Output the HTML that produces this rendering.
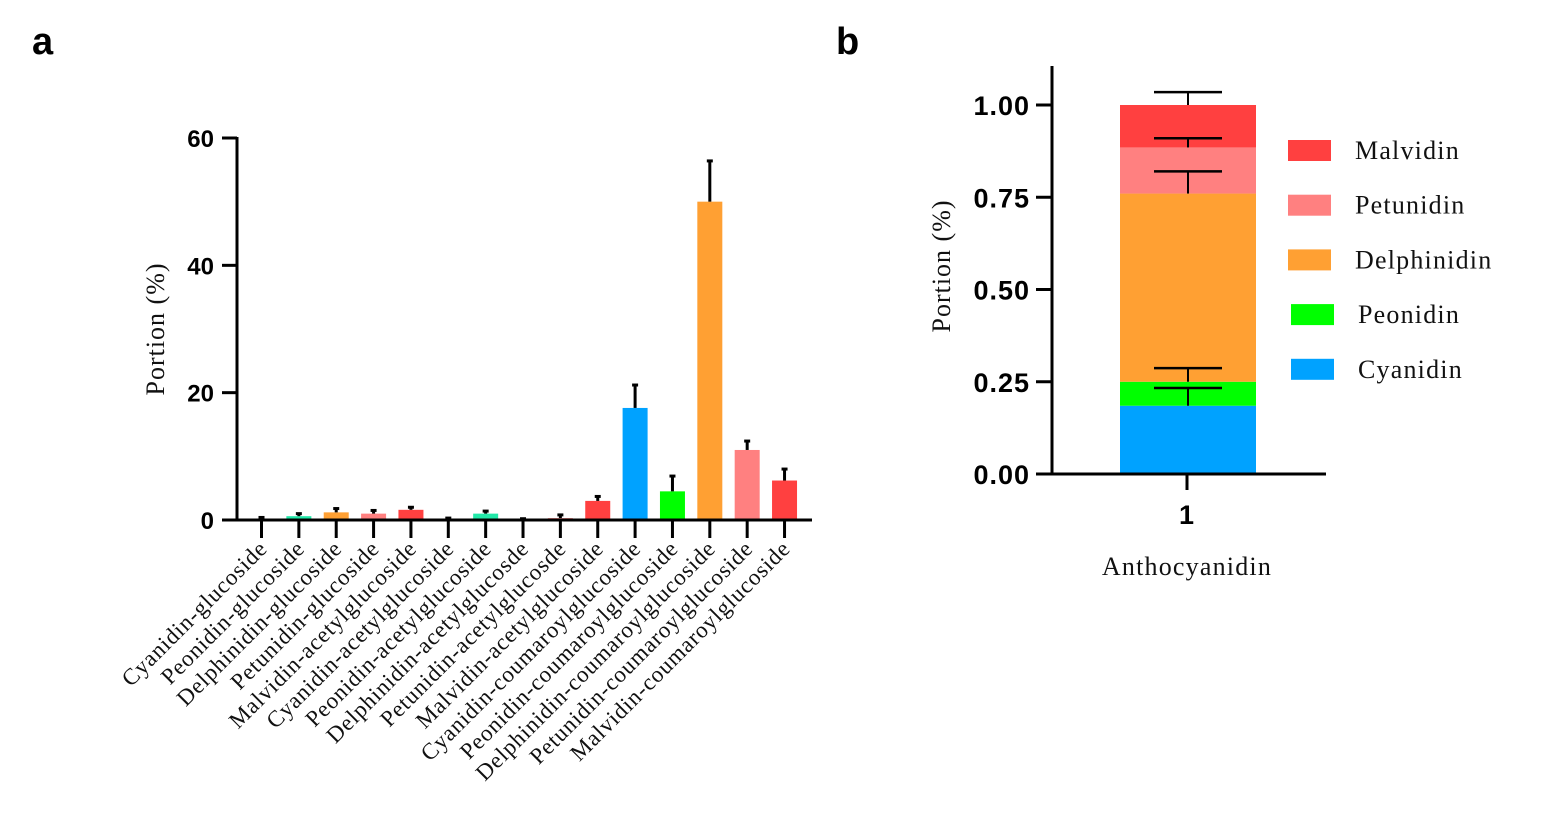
<!DOCTYPE html>
<html><head><meta charset="utf-8"><style>
html,body{margin:0;padding:0;background:#fff;}
svg{display:block;}
.tk{font-family:"Liberation Sans",sans-serif;font-weight:bold;font-size:24px;fill:#000;}
.tkb{font-family:"Liberation Sans",sans-serif;font-weight:bold;font-size:27px;fill:#000;letter-spacing:1px;}
.sr{font-family:"Liberation Serif",serif;fill:#111;}
</style></head><body>
<svg id="chart" width="1541" height="828" viewBox="0 0 1541 828" xmlns="http://www.w3.org/2000/svg">
<text x="32" y="54" font-family="Liberation Sans,sans-serif" font-weight="bold" font-size="38">a</text>
<text x="836" y="54" font-family="Liberation Sans,sans-serif" font-weight="bold" font-size="38">b</text>
<g id="pa"></g>
<g id="pb"></g>
</svg>
<script>
const catsA=["Cyanidin-glucoside","Peonidin-glucoside","Delphinidin-glucoside","Petunidin-glucoside","Malvidin-acetylglucoside","Cyanidin-acetylglucoside","Peonidin-acetylglucoside","Delphinidin-acetylglucosde","Petunidin-acetylglucosde","Malvidin-acetylglucoside","Cyanidin-coumaroylglucoside","Peonidin-coumaroylglucoside","Delphinidin-coumaroylglucoside","Petunidin-coumaroylglucoside","Malvidin-coumaroylglucoside"];
const valsA=[0.1,0.6,1.2,1.0,1.6,0.1,1.0,0.1,0.3,3.0,17.6,4.5,50,11,6.2];
const errA=[0.3,0.4,0.6,0.5,0.4,0.2,0.4,0.1,0.5,0.7,3.6,2.4,6.4,1.4,1.8];
const colA=["#ff4040","#22e8a8","#ffa033","#ff8080","#ff4040","#ff4040","#22e8a8","#ff4040","#ff8080","#ff4040","#00a2ff","#00ff00","#ffa033","#ff8080","#ff4040"];
const ticksA=[0,20,40,60];
const segNames=["Cyanidin","Peonidin","Delphinidin","Petunidin","Malvidin"];
const segVals=[0.185,0.065,0.51,0.125,0.115];
const segErr=[0.048,0.037,0.06,0.025,0.035];
const segCol=["#00a2ff","#00ff00","#ffa033","#ff8080","#ff4040"];
const ticksB=[0,0.25,0.5,0.75,1.0];
const tickLabB=["0.00","0.25","0.50","0.75","1.00"];
const NS="http://www.w3.org/2000/svg";
function mk(p,t,a,txt){const e=document.createElementNS(NS,t);for(const k in a)e.setAttribute(k,a[k]);if(txt!==undefined)e.textContent=txt;p.appendChild(e);return e;}
// chart a
const ga=document.getElementById('pa');
const ya=v=>520-v*(382/60);
const xa=i=>261.5+i*37.36;
for(let i=0;i<catsA.length;i++){
 const x=xa(i),h=valsA[i];
 const r=mk(ga,'rect',{x:x-12.5,y:ya(h),width:25,height:520-ya(h),fill:colA[i]});
 
 
 const e=mk(ga,'line',{x1:x,x2:x,y1:ya(h),y2:ya(h+errA[i]),stroke:'#000','stroke-width':3});
 
 
 mk(ga,'line',{x1:x-3,x2:x+3,y1:ya(h+errA[i]),y2:ya(h+errA[i]),stroke:'#000','stroke-width':3});
 mk(ga,'line',{x1:x,x2:x,y1:520,y2:538,stroke:'#000','stroke-width':3});
 const t=mk(ga,'text',{class:'sr','font-size':23,'letter-spacing':0.8,'text-anchor':'end',transform:`translate(${x+7},${550}) rotate(-45)`},catsA[i]);
 
 
}
mk(ga,'line',{x1:237,x2:237,y1:137,y2:521.5,stroke:'#000','stroke-width':3});
mk(ga,'line',{x1:222,x2:812,y1:520,y2:520,stroke:'#000','stroke-width':3});
for(const v of ticksA){
 mk(ga,'line',{x1:222,x2:237,y1:ya(v),y2:ya(v),stroke:'#000','stroke-width':3});
 const t=mk(ga,'text',{class:'tk','text-anchor':'end',x:214,y:ya(v)+9},String(v));
 
 
}
const yt=mk(ga,'text',{class:'sr','font-size':26,'letter-spacing':1,'text-anchor':'middle',transform:'translate(164,329) rotate(-90)'},'Portion (%)');


// chart b
const gb=document.getElementById('pb');
const yb=v=>474-v*369;
let cum=0;
const errs=[];
for(let i=0;i<segVals.length;i++){
 const r=mk(gb,'rect',{x:1120,y:yb(cum+segVals[i]),width:136,height:segVals[i]*369,fill:segCol[i]});
 
 
 cum+=segVals[i];
 errs.push([cum,segErr[i]]);
}
for(const [c,e] of errs){
 mk(gb,'line',{x1:1188,x2:1188,y1:yb(c),y2:yb(c+e),stroke:'#000','stroke-width':2});
 const l=mk(gb,'line',{x1:1154,x2:1222,y1:yb(c+e),y2:yb(c+e),stroke:'#000','stroke-width':2.5});
 
 
}
mk(gb,'line',{x1:1052,x2:1052,y1:66,y2:475.5,stroke:'#000','stroke-width':3});
mk(gb,'line',{x1:1036,x2:1326,y1:474,y2:474,stroke:'#000','stroke-width':3});
mk(gb,'line',{x1:1187,x2:1187,y1:474,y2:490,stroke:'#000','stroke-width':3});
for(let i=0;i<ticksB.length;i++){
 mk(gb,'line',{x1:1036,x2:1052,y1:yb(ticksB[i]),y2:yb(ticksB[i]),stroke:'#000','stroke-width':3});
 const t=mk(gb,'text',{class:'tkb','text-anchor':'end',x:1030,y:yb(ticksB[i])+10},tickLabB[i]);
 
 
}
const xl=mk(gb,'text',{class:'tkb','text-anchor':'middle',x:1187,y:524},'1');


const xt=mk(gb,'text',{class:'sr','font-size':26,'letter-spacing':1.2,'text-anchor':'middle',x:1187,y:575},'Anthocyanidin');


const yt2=mk(gb,'text',{class:'sr','font-size':26,'letter-spacing':1,'text-anchor':'middle',transform:'translate(950,266) rotate(-90)'},'Portion (%)');


for(let k=0;k<5;k++){
 const i=4-k, y=150+k*54.7;
 const g=mk(gb,'g',{});
 
 
 mk(g,'rect',{x:k>=3?1291:1288,y:y-10,width:43,height:21,fill:segCol[i]});
 mk(g,'text',{class:'sr','font-size':26,'letter-spacing':1.2,x:k>=3?1358:1355,y:y+9},segNames[i]);
}
</script>
</body></html>
